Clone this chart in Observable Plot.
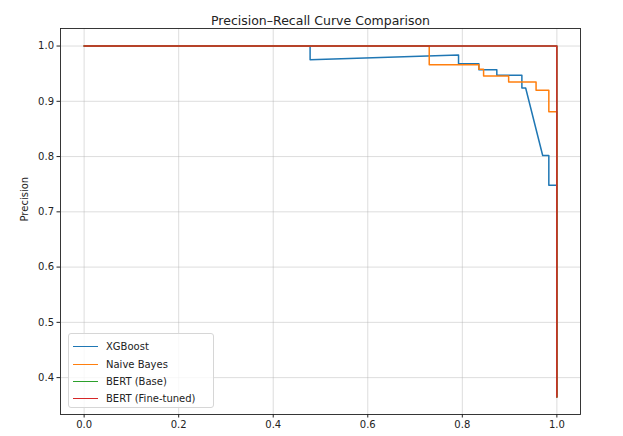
<!DOCTYPE html>
<html>
<head>
<meta charset="utf-8">
<script src="https://cdn.jsdelivr.net/npm/d3@7"></script>
<script src="https://cdn.jsdelivr.net/npm/@observablehq/plot@0.6"></script>
<style>
  body { margin: 0; background: #fff; }
  #wrap { position: relative; width: 623px; height: 436px; font-family: "DejaVu Sans", sans-serif; }
  #legend { position: absolute; left: 68px; top: 333px; width: 146px; height: 75px;
    border: 1px solid #d6d6d6; border-radius: 3px; background: rgba(255,255,255,0.8);
    font-size: 10px; color: #222; box-sizing: border-box; padding-top: 4px; }
  .item { display: flex; align-items: center; height: 17.4px; }
  .sw { width: 25px; height: 0; border-top: 1.5px solid; margin-left: 4px; margin-right: 8px; }
</style>
</head>
<body>
<div id="wrap"></div>
<script>
const title = "Precision–Recall Curve Comparison";
const yLabel = "Precision";
const seriesNames = ["XGBoost", "Naive Bayes", "BERT (Base)", "BERT (Fine-tuned)"];
const seriesColors = ["#1f77b4", "#ff7f0e", "#2ca02c", "#d62728"];

const xgbRecall    = [0, 0.478, 0.478, 0.792, 0.792, 0.835, 0.835, 0.873, 0.873, 0.926, 0.926, 0.934, 0.970, 0.983, 0.983, 0.994, 1.0, 1.0];
const xgbPrecision = [1, 1, 0.975, 0.984, 0.968, 0.968, 0.957, 0.957, 0.947, 0.947, 0.924, 0.924, 0.802, 0.802, 0.748, 0.748, 0.748, 0.365];

const nbRecall    = [0, 0.73, 0.73, 0.835, 0.835, 0.845, 0.845, 0.898, 0.898, 0.956, 0.956, 0.983, 0.983, 0.994, 1.0, 1.0];
const nbPrecision = [1, 1, 0.966, 0.966, 0.958, 0.958, 0.946, 0.946, 0.935, 0.935, 0.920, 0.920, 0.881, 0.881, 0.881, 0.365];

const bertBaseRecall    = [0, 1.0, 1.0];
const bertBasePrecision = [1, 1, 0.365];

const bertFtRecall    = [0, 1.0, 1.0];
const bertFtPrecision = [1, 1, 0.365];

const xTicks = [0, 0.2, 0.4, 0.6, 0.8, 1.0];
const yTicks = [0.4, 0.5, 0.6, 0.7, 0.8, 0.9, 1.0];

const recalls = [xgbRecall, nbRecall, bertBaseRecall, bertFtRecall];
const precisions = [xgbPrecision, nbPrecision, bertBasePrecision, bertFtPrecision];
const rows = seriesNames.flatMap((s, i) => recalls[i].map((r, j) => ({series: s, recall: r, precision: precisions[i][j]})));

const allP = precisions.flat();
const pMin = d3.min(allP), pMax = d3.max(allP);
const pPad = (pMax - pMin) * 0.05;

const chart = Plot.plot({
  width: 623, height: 436,
  marginLeft: 60, marginRight: 43, marginTop: 28, marginBottom: 22,
  style: {fontFamily: "DejaVu Sans, sans-serif", fontSize: "10px", color: "#222", background: "white"},
  x: {domain: [-0.05, 1.05]},
  y: {domain: [pMin - pPad, pMax + pPad]},
  color: {domain: seriesNames, range: seriesColors},
  marks: [
    Plot.gridX(xTicks, {stroke: "#b0b0b0", strokeOpacity: 0.55, strokeWidth: 0.8}),
    Plot.gridY(yTicks, {stroke: "#b0b0b0", strokeOpacity: 0.55, strokeWidth: 0.8}),
    Plot.axisX(xTicks, {tickSize: 3.5, tickPadding: 3, tickFormat: d3.format(".1f"), label: null, fontSize: 10}),
    Plot.axisY(yTicks, {tickSize: 3.5, tickPadding: 3, tickFormat: d3.format(".1f"), label: null, fontSize: 10}),
    Plot.line(rows, {x: "recall", y: "precision", z: "series", stroke: "series", strokeWidth: 1.5, curve: "linear"}),
    Plot.frame({stroke: "#222", strokeWidth: 0.9}),
    Plot.text([title], {frameAnchor: "top", dy: -12, fontSize: 12.5, fill: "#222"}),
    Plot.text([yLabel], {frameAnchor: "left", dx: -36, rotate: -90, fontSize: 10, fill: "#222"})
  ]
});
const wrap = document.getElementById("wrap");
wrap.appendChild(chart);

const leg = document.createElement("div");
leg.id = "legend";
seriesNames.forEach((s, i) => {
  const it = document.createElement("div");
  it.className = "item";
  const sw = document.createElement("span");
  sw.className = "sw";
  sw.style.borderTopColor = seriesColors[i];
  const tx = document.createElement("span");
  tx.textContent = s;
  it.appendChild(sw); it.appendChild(tx);
  leg.appendChild(it);
});
wrap.appendChild(leg);
</script>
</body>
</html>
